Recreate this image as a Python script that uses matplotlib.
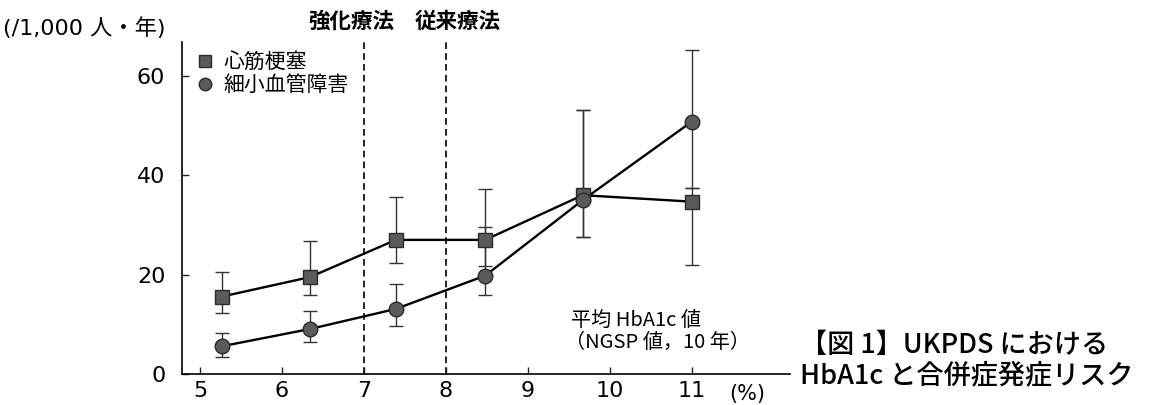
# -*- coding: utf-8 -*-

import matplotlib
matplotlib.use('Agg')
from matplotlib import pyplot as plt
from matplotlib.lines import Line2D

plt.rcParams['font.family'] = ['DejaVu Sans', 'Noto Sans CJK JP']
cjk = ['Noto Sans CJK JP', 'DejaVu Sans']

# 平均 HbA1c 値 (%)
hba1c = [5.27, 6.34, 7.39, 8.48, 9.67, 11.0]

# 心筋梗塞 (/1,000 人・年)
mi = [15.6, 19.5, 27.0, 27.0, 36.0, 34.7]
mi_lo = [12.2, 16.0, 22.4, 21.7, 27.5, 21.9]
mi_hi = [20.6, 26.8, 35.7, 37.2, 53.1, 37.4]

# 細小血管障害
micro = [5.6, 9.05, 13.1, 19.8, 35.0, 50.8]
micro_lo = [3.4, 6.5, 9.7, 16.0, 27.5, 37.4]
micro_hi = [8.3, 12.7, 18.1, 29.5, 53.1, 65.2]

xticks = [5, 6, 7, 8, 9, 10, 11]
yticks = [0, 20, 40, 60]
therapy_x = [7, 8]
therapy_labels = ['強化療法', '従来療法']
series_names = ['心筋梗塞', '細小血管障害']

fill = '#5a5a5a'
edge = '#2a2a2a'

fig = plt.figure(figsize=(11.64, 4.05), dpi=100)
ax = fig.add_axes([182 / 1164, 1 - 374 / 405, (790 - 182) / 1164, (374 - 41.7) / 405])

# 誤差範囲
for ys, lo, hi in [(mi, mi_lo, mi_hi), (micro, micro_lo, micro_hi)]:
    err = [[y - l for y, l in zip(ys, lo)], [h - y for y, h in zip(ys, hi)]]
    ax.errorbar(hba1c, ys, yerr=err, fmt='none', ecolor='#333333',
                elinewidth=1.0, capsize=5, capthick=1.0, zorder=2)

ax.plot(hba1c, mi, color='black', lw=1.7, zorder=3)
ax.plot(hba1c, micro, color='black', lw=1.7, zorder=3)
ax.plot(hba1c, mi, 's', ms=10, mfc=fill, mec=edge, mew=1.0, zorder=4)
ax.plot(hba1c, micro, 'o', ms=10.5, mfc=fill, mec=edge, mew=1.0, zorder=4)

# 治療群の境界
for x in therapy_x:
    ax.axvline(x, color='black', lw=1.2, ls=(0, (4, 2.5)), zorder=1)
for x, t in zip([6.84, 8.15], therapy_labels):
    ax.text(x, 1.06, t, transform=ax.get_xaxis_transform(), ha='center',
            va='center', fontsize=15.5, fontweight='bold', family=cjk)

ax.set_xlim(4.78, 12.2)
ax.set_ylim(0, 66.9)
ax.set_xticks(xticks)
ax.set_yticks(yticks)
ax.tick_params(direction='in', length=5, width=1, labelsize=16, color='#222222')
ax.tick_params(axis='y', pad=12)
ax.tick_params(axis='x', pad=5)
for s in ['top', 'right']:
    ax.spines[s].set_visible(False)
for s in ['left', 'bottom']:
    ax.spines[s].set_linewidth(1.2)

handles = [
    Line2D([], [], ls='none', marker='s', ms=8, mfc=fill, mec=edge),
    Line2D([], [], ls='none', marker='o', ms=9, mfc=fill, mec=edge),
]
leg = ax.legend(handles, series_names, loc='upper left', bbox_to_anchor=(0.0, 1.01),
                frameon=False, fontsize=15, handletextpad=0.4, handlelength=1.0,
                labelspacing=0.05, borderaxespad=0.2,
                prop={'family': cjk, 'size': 15})

ax.text(9.53, 10.8, '平均 HbA1c 値', fontsize=14.5, va='center', ha='left', family=cjk)
ax.text(9.45, 6.3, '（NGSP 値，10 年）', fontsize=14.5, va='center', ha='left', family=cjk)
ax.text(11.68, -0.06, '(%)', transform=ax.get_xaxis_transform(), fontsize=15,
        ha='center', va='center')

fig.text(3 / 1164, 1 - 28 / 405, '(/1,000 人・年)', fontsize=16, va='center', ha='left')

fig.text(800 / 1164, 1 - 345 / 405, '【図 1】UKPDS における', fontsize=19.5,
         fontweight='medium', va='center', ha='left', family=cjk)
fig.text(800 / 1164, 1 - 376 / 405, 'HbA1c と合併症発症リスク', fontsize=19.5,
         fontweight='medium', va='center', ha='left', family=cjk)

fig.savefig('out.png', dpi=100)
